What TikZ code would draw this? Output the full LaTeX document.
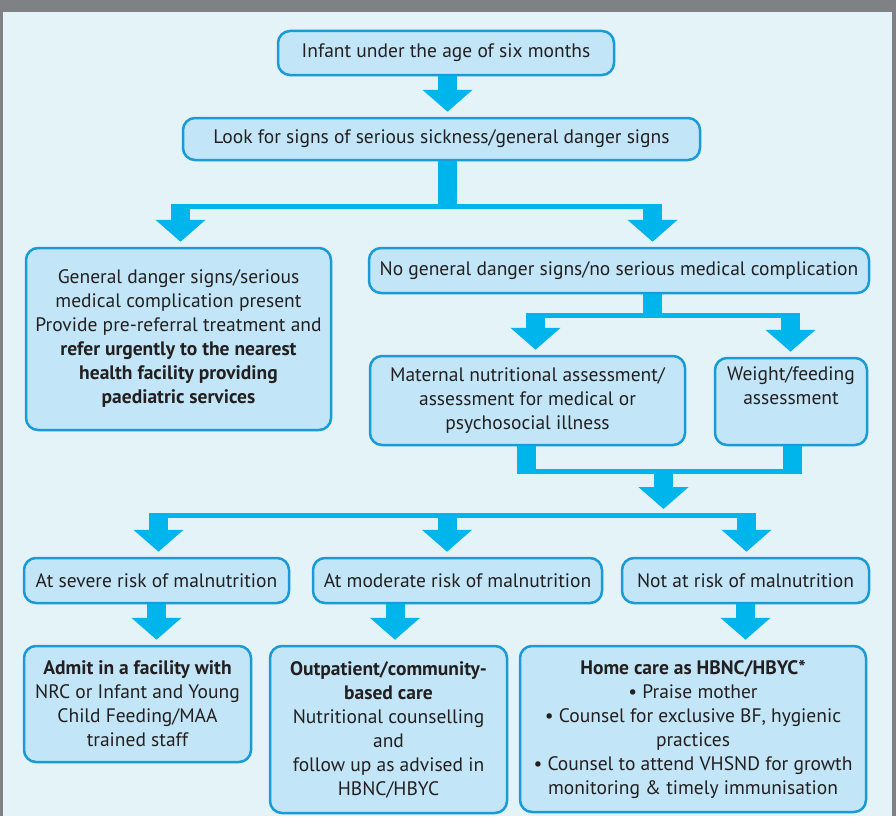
\documentclass[tikz,border=0pt]{standalone}
\usepackage{fontspec}
\setmainfont{PT Sans}
\usepackage{tikz}
\usetikzlibrary{arrows.meta,calc,positioning}
\definecolor{mframe}{HTML}{808185}
\definecolor{mback}{HTML}{E4F3F8}
\definecolor{mfill}{HTML}{C2E6F7}
\definecolor{mline}{HTML}{1A9AD6}
\definecolor{marrow}{HTML}{00B4EC}
\definecolor{mtext}{HTML}{231F20}
\tikzstyle{box}=[rectangle, rounded corners=12pt, draw=mline, fill=mfill, line width=2.5, text=mtext, align=center, inner sep=4pt, font=\fontsize{19.5}{24}\selectfont]
\tikzstyle{shaft}=[draw=marrow, line width=19]
\tikzstyle{bar}=[draw=marrow, line width=5]
\tikzstyle{arrow}=[shaft, -{Triangle[width=49pt,length=22pt]}, shorten >=5pt]

\begin{document}
\begin{tikzpicture}[x=1pt, y=-1pt]
    \useasboundingbox (0,0) rectangle (896,816);
    \fill[mframe] (0,0) rectangle (896,816);
    \fill[mback] (3,12) rectangle (892,816);

    \node (infant) [box, minimum width=336, minimum height=44] at (446,53) {Infant under the age of six months};
    \node (look) [box, minimum width=517, minimum height=42] at (441.5,139) {Look for signs of serious sickness/general danger signs};
    \node (danger) [box, minimum width=305, minimum height=182] at (178.5,339) {General danger signs/serious\\medical complication present\\Provide pre-referral treatment and\\\textbf{refer urgently to the nearest}\\\textbf{health facility providing}\\\textbf{paediatric services}};
    \node (nodanger) [box, minimum width=500, minimum height=45] at (619,270.5) {No general danger signs/no serious medical complication};
    \node (maternal) [box, minimum width=315, minimum height=89] at (527.5,400.5) {Maternal nutritional assessment/\\assessment for medical or\\psychosocial illness};
    \node (weight) [box, minimum width=152, minimum height=87] at (791,401.5) {Weight/feeding\\assessment\\\strut};

    \node (severe) [box, minimum width=265, minimum height=45] at (156.5,580.5) {At severe risk of malnutrition};
    \node (moderate) [box, minimum width=289, minimum height=45] at (457.5,580.5) {At moderate risk of malnutrition};
    \node (notrisk) [box, minimum width=247, minimum height=45] at (745.5,580.5) {Not at risk of malnutrition};
    \node (admit) [box, minimum width=227, minimum height=116] at (137.5,704) {\textbf{Admit in a facility with}\\NRC or Infant and Young\\Child Feeding/MAA\\trained staff};
    \node (outpat) [box, minimum width=237, minimum height=167] at (388.5,729.5) {\textbf{Outpatient/community-}\\\textbf{based care}\\Nutritional counselling\\and\\follow up as advised in\\HBNC/HBYC};
    \node (home) [box, minimum width=346, minimum height=166] at (693,729) {\textbf{Home care as HBNC/HBYC*}\\\textbullet\ Praise mother\\\textbullet\ Counsel for exclusive BF, hygienic\\practices\\\textbullet\ Counsel to attend VHSND for growth\\monitoring \& timely immunisation};

    % first split
    \coordinate (s1) at (447.5,209);
    \coordinate (s1l) at (180.5,206.5);
    \coordinate (s1r) at (652.5,206.5);
    \draw[arrow] (infant.south -| s1) -- (s1 |- look.north);
    \draw[shaft] (look.south -| s1) -- (s1);
    \draw[bar] ($(s1l)+(-9.5,0)$) -- ($(s1r)+(9.5,0)$);
    \draw[arrow] (s1l) -- (s1l |- danger.north);
    \draw[arrow] (s1r) -- (s1r |- nodanger.north);

    % second split
    \coordinate (s2) at (652,318);
    \coordinate (s2l) at (535.5,315.5);
    \coordinate (s2r) at (790.5,315.5);
    \draw[shaft] (nodanger.south -| s2) -- (s2);
    \draw[bar] ($(s2l)+(-9.5,0)$) -- ($(s2r)+(9.5,0)$);
    \draw[arrow] (s2l) -- (s2l |- maternal.north);
    \draw[arrow] (s2r) -- (s2r |- weight.north);

    % merge
    \coordinate (m1l) at (526.5,474);
    \coordinate (m1r) at (792,474);
    \coordinate (m1) at (663.5,471.5);
    \draw[shaft] (maternal.south -| m1l) -- (m1l);
    \draw[shaft] (weight.south -| m1r) -- (m1r);
    \draw[bar] ($(m1l)+(-9.5,-2.5)$) -- ($(m1r)+(9.5,-2.5)$);
    \draw[arrow, shorten >=0pt] (m1) -- (663.5,509);

    % third split
    \coordinate (s3l) at (158.5,515.5);
    \coordinate (s3m) at (447,515.5);
    \coordinate (s3r) at (746.5,515.5);
    \draw[bar] ($(s3l)+(-9.5,0)$) -- ($(s3r)+(9.5,0)$);
    \draw[arrow] (s3l) -- (s3l |- severe.north);
    \draw[arrow] (s3m) -- (s3m |- moderate.north);
    \draw[arrow] (s3r) -- (s3r |- notrisk.north);

    \coordinate (s4) at (395,0);
    \draw[arrow] (severe.south) -- (severe.south |- admit.north);
    \draw[arrow] (moderate.south -| s4) -- (s4 |- outpat.north);
    \draw[arrow] (notrisk.south) -- (notrisk.south |- home.north);

\end{tikzpicture}
\end{document}
